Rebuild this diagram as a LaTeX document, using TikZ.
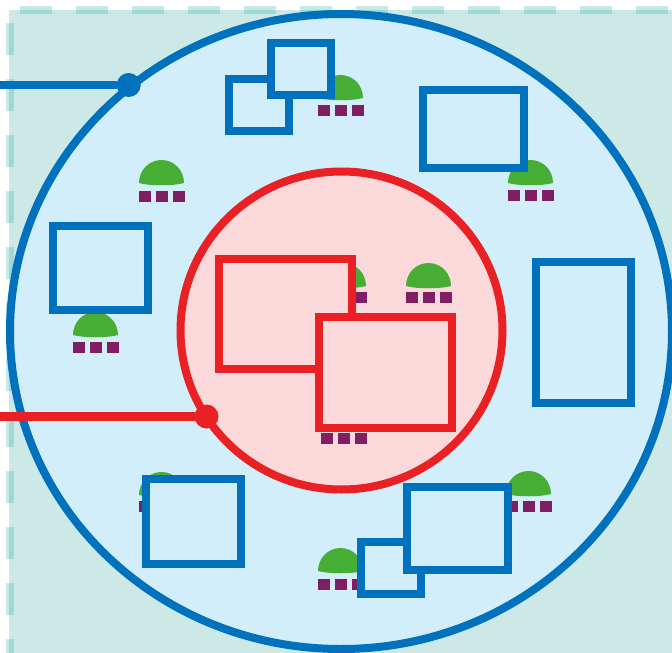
\documentclass[tikz,border=0pt]{standalone}
\definecolor{bgteal}{HTML}{CCE9E8}
\definecolor{dashteal}{HTML}{2DB3A8}
\definecolor{myblue}{HTML}{0071BC}
\definecolor{myred}{HTML}{E92024}
\definecolor{lightblue}{HTML}{D2EEFA}
\definecolor{lightpink}{HTML}{FBD9DA}
\definecolor{domegreen}{HTML}{46AE34}
\definecolor{mypurple}{HTML}{7F1E62}
\tikzset{
  x=1pt,y=-1pt,
  frameline/.style={draw=dashteal,draw opacity=.28,line width=8pt,dash pattern=on 32pt off 24pt},
  bluebox/.style={rectangle,draw=myblue,fill=lightblue,line width=8pt,inner sep=0pt,outer sep=0pt,anchor=center},
  redbox/.style={rectangle,draw=myred,fill=lightpink,line width=8pt,inner sep=0pt,outer sep=0pt,anchor=center},
  bluedot/.style={circle,fill=myblue,minimum size=24pt,inner sep=0pt,outer sep=0pt},
  reddot/.style={circle,fill=myred,minimum size=24pt,inner sep=0pt,outer sep=0pt},
  pad/.style={fill=mypurple},
  dome/.style={fill=domegreen}
}
% #1 centre x of the pads, #2 top y of the dome, #3 top y of the pads
\newcommand{\domepad}[3]{%
  \fill[dome] (#1-23,#2+23) .. controls (#1-23,#2+10) and (#1-12.9,#2) .. (#1-0.5,#2)
     .. controls (#1+11.9,#2) and (#1+22,#2+10) .. (#1+22,#2+23)
     .. controls (#1+11.5,#2+26) and (#1-12.5,#2+26) .. (#1-23,#2+23) -- cycle;
  \fill[pad] (#1-23,#3) rectangle ++(12,11);
  \fill[pad] (#1-6,#3) rectangle ++(12,11);
  \fill[pad] (#1+11,#3) rectangle ++(12,11);
}
\newcommand{\boxnode}[6]{% style,name,x0,y0,x1,y1
  \node[#1,minimum width=#5pt-#3pt,minimum height=#6pt-#4pt] (#2) at ({(#3+#5)/2},{(#4+#6)/2}) {};
}
\begin{document}
\begin{tikzpicture}
\path[use as bounding box] (0,0) rectangle (672,653);
\clip (0,0) rectangle (672,653);
\fill[white] (0,0) rectangle (672,653);
\fill[bgteal] (9,10) rectangle (672,653);
\coordinate (topstart) at (20,10);
\coordinate (topend) at (672,10);
\coordinate (leftstart) at (10,23);
\coordinate (leftend) at (10,653);
\draw[frameline] (topstart) -- (topend);
\draw[frameline] (leftstart) -- (leftend);

% outer zone
\fill[lightblue,draw=myblue,line width=8pt] (341,331.5) ellipse [x radius=331pt,y radius=317.5pt];
% inner zone
\fill[lightpink,draw=myred,line width=8pt] (341.5,330.5) ellipse [x radius=161pt,y radius=159pt];

% domes with pads
\domepad{341}{75}{105}
\domepad{162}{160}{191}
\domepad{531}{160}{190}
\domepad{96}{312}{342}
\domepad{344}{263}{292}
\domepad{429}{263}{292}
\domepad{344}{405}{433}
\domepad{162}{472}{501}
\domepad{529}{471}{501}
\domepad{341}{548}{579}

% boxes
\boxnode{bluebox}{ba}{229.3}{79}{289}{131}
\boxnode{bluebox}{bb}{271.3}{43.3}{331}{95.3}
\boxnode{bluebox}{bc}{423}{90}{524}{168}
\boxnode{bluebox}{bd}{53}{226}{148.3}{310.3}
\boxnode{bluebox}{be}{536}{262}{631}{403}
\boxnode{bluebox}{bf}{146}{479}{241}{564}
\boxnode{bluebox}{bh}{361.3}{542}{420.7}{593.7}
\boxnode{bluebox}{bg}{407}{487.3}{507.8}{569.7}
\boxnode{redbox}{ri}{219}{259}{352}{369}
\boxnode{redbox}{rj}{319}{317}{452}{428}

% connectors
\coordinate (bluefree) at (0,85);
\coordinate (redfree) at (0,416.5);
\node[bluedot] (bluepin) at (128.7,85) {};
\node[reddot] (redpin) at (206.5,416.5) {};
\draw[myblue,line width=8.4pt] (bluefree) -- (bluepin);
\draw[myred,line width=8.4pt] (redfree) -- (redpin);
\end{tikzpicture}
\end{document}
